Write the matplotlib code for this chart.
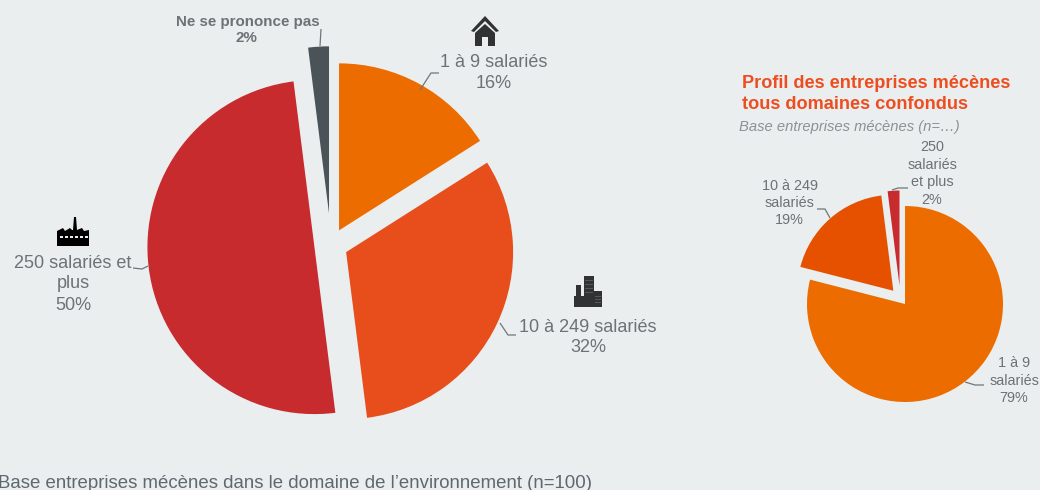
import matplotlib
matplotlib.use('Agg')
import matplotlib.pyplot as plt
from matplotlib.patches import Polygon, Rectangle

plt.rcParams['font.family'] = ['Liberation Sans', 'DejaVu Sans']

# main pie
main_labels = ['1 à 9 salariés', '10 à 249 salariés', '250 salariés et plus', 'Ne se prononce pas']
main_values = [16, 32, 50, 2]
main_colors = ['#ec6c00', '#e84e1b', '#c82b2e', '#4a5358']
main_explode = [0.1, 0.1, 0.1, 0.19]

# small pie
small_labels = ['1 à 9 salariés', '10 à 249 salariés', '250 salariés et plus']
small_values = [79, 19, 2]
small_colors = ['#ec6c00', '#e65100', '#c82b2e']
small_explode = [0, 0.18, 0.15]

BG = '#eaeeef'
GREY = '#6e7277'
ICON = '#303234'
W, H = 1040, 490
R_MAIN = 167
R_SMALL = 98


def Y(y):
    # picture coords have y going down
    return H - y


fig = plt.figure(figsize=(W / 100, H / 100), dpi=100, facecolor=BG)
ax = fig.add_axes([0, 0, 1, 1])

# explode is in data units here, so scale it by the radius
ax.pie(main_values, colors=main_colors, explode=[e * R_MAIN for e in main_explode], startangle=90,
       counterclock=False, radius=R_MAIN, center=(331, Y(245)))
small_wedges, _ = ax.pie(small_values, colors=small_colors, explode=[e * R_SMALL for e in small_explode],
                         startangle=90, counterclock=False, radius=R_SMALL, center=(905, Y(304)))
# the two pulled out slices are a bit smaller and the red one sits further left
small_wedges[1].set_radius(96)
small_wedges[2].set_radius(95)
small_wedges[2].set_center((899.5, Y(285.5)))

ax.set_xlim(0, W)
ax.set_ylim(0, H)
ax.set_aspect('auto')
ax.axis('off')


def label(x, y, s, size=13, **kw):
    kw.setdefault('color', GREY)
    kw.setdefault('ha', 'center')
    kw.setdefault('va', 'center')
    ax.text(x, Y(y), s, fontsize=size, **kw)


def leader(xs, ys):
    ax.plot(xs, [Y(v) for v in ys], color='#70757a', lw=0.9, solid_capstyle='butt')


# labels big pie
label(494, 63, main_labels[0])
label(494, 84, '16%')
label(588, 328, main_labels[1])
label(588, 348, '32%')
label(73, 264, '250 salariés et')
label(73, 284, 'plus')
label(73, 306, '50%')
label(248, 22, main_labels[3], size=10.9, fontweight='bold')
label(246, 38, '2%', size=10.9, fontweight='bold')

leader([420, 431, 439], [90, 73, 73])
leader([500, 508, 516], [323, 335, 335])
leader([133, 142, 148], [268, 269, 266])
leader([320, 321], [46, 29])

# labels small pie
label(790, 186, '10 à 249', size=10.4)
label(789, 203, 'salariés', size=10.4)
label(789, 220, '19%', size=10.4)
label(932, 147, '250', size=10.4)
label(932, 165, 'salariés', size=10.4)
label(932, 182, 'et plus', size=10.4)
label(932, 200, '2%', size=10.4)
label(1014, 363, '1 à 9', size=10.4)
label(1014, 381, 'salariés', size=10.4)
label(1014, 398, '79%', size=10.4)

leader([817, 825, 830], [209, 209, 218])
leader([892, 898, 908], [190, 188, 188])
leader([965, 975, 984], [382, 385, 385])

# title block
label(742, 84, 'Profil des entreprises mécènes', size=13.1, color='#ee4e1f',
      fontweight='bold', ha='left')
label(742, 105, 'tous domaines confondus', size=13.1, color='#ee4e1f',
      fontweight='bold', ha='left')
label(739, 127, 'Base entreprises mécènes (n=…)', size=10.65, color='#8d9195',
      fontstyle='italic', ha='left')

# footer
label(-2, 483, 'Base entreprises mécènes dans le domaine de l’environnement (n=100)',
      size=13.4, color='#5f686f', ha='left')


def poly(points, color=ICON):
    ax.add_patch(Polygon([(x, Y(y)) for x, y in points], closed=True, fc=color, ec='none'))


def rect(x0, y0, x1, y1, color=ICON):
    ax.add_patch(Rectangle((x0, Y(y1)), x1 - x0, y1 - y0, fc=color, ec='none'))


# house icon
poly([(485, 16), (499, 31), (496, 32), (485, 21), (474, 32), (471, 31)])
poly([(485, 24), (495, 33), (495, 46), (488, 46), (488, 37), (482, 37), (482, 46), (475, 46), (475, 33)])

# factory icon
factory = [(57, 246), (57, 231), (63, 228), (65, 231), (70, 228), (72, 230), (73, 230), (74, 217),
           (76, 217), (77, 230), (82, 228), (84, 231), (89, 230), (89, 246)]
poly(factory, 'black')
for fx in range(60, 86, 5):
    rect(fx, 236, fx + 3, 238, BG)

# buildings icon
rect(574, 296, 602, 307)
rect(576, 285, 581, 301)
rect(584, 276, 594, 301)
rect(594, 291, 602, 301)
for by in range(280, 296, 4):
    rect(585, by, 593, by + 1, '#55585a')
for by in range(296, 305, 3):
    rect(595, by, 601, by + 1, '#55585a')

fig.savefig('out.png', dpi=100, facecolor=BG)
